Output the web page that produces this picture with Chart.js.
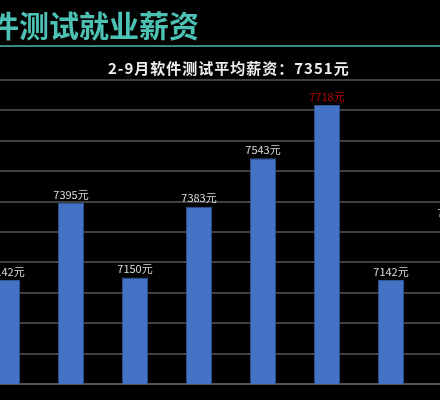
<!DOCTYPE html><html><head><meta charset="utf-8">
<script src="https://cdn.jsdelivr.net/npm/chart.js@4"></script>
<style>
html,body{margin:0;padding:0;background:#000;width:440px;height:400px;overflow:hidden;position:relative;font-family:"Noto Sans CJK SC",sans-serif}
#t{position:absolute;left:-41px;top:2px;font-size:30px;font-weight:bold;color:#4cc2b4;white-space:nowrap;letter-spacing:0px}
#l{position:absolute;left:0;top:45px;width:440px;height:2px;background:#3c8c86}
#s{position:absolute;left:108px;top:57px;font-size:15px;font-weight:bold;color:#eee;white-space:nowrap;letter-spacing:1px}
#c{position:absolute;left:-25px;top:0}
</style></head><body>
<canvas id="c" width="512" height="400"></canvas>
<div id="t">软件测试就业薪资</div><div id="l"></div>
<div id="s">2-9月软件测试平均薪资：7351元</div>
<script>
const months=["2月","3月","4月","5月","6月","7月","8月","9月"];
const salaries=[7142,7395,7150,7383,7543,7718,7142,7335];
const labelColors=["#ddd","#ddd","#ddd","#ddd","#ddd","#c00000","#ddd","#ddd"];
const lbl={id:'lbl',afterDatasetsDraw(ch){const c=ch.ctx;const m=ch.getDatasetMeta(0);c.save();c.font='11px "Liberation Sans Narrow", "Noto Sans CJK SC"';c.textAlign='center';c.textBaseline='bottom';
m.data.forEach((b,i)=>{c.fillStyle=labelColors[i];c.fillText(salaries[i]+'元',b.x,b.y-3);});c.restore();}};
new Chart(document.getElementById('c'),{type:'bar',data:{labels:months,datasets:[{data:salaries,backgroundColor:'#4472c4',borderColor:'#2f5597',borderWidth:1,barPercentage:0.41,categoryPercentage:1}]},
options:{responsive:false,animation:false,devicePixelRatio:1,layout:{padding:{top:80,bottom:8,left:0,right:0}},
plugins:{legend:{display:false},tooltip:{enabled:false}},
scales:{x:{display:true,ticks:{display:false},grid:{display:false},border:{color:'#555',width:2}},
y:{display:true,min:6800,max:7800,ticks:{display:false,stepSize:100},grid:{color:'#404040',lineWidth:2,drawTicks:false},border:{display:false}}}},plugins:[lbl]});
</script></body></html>
